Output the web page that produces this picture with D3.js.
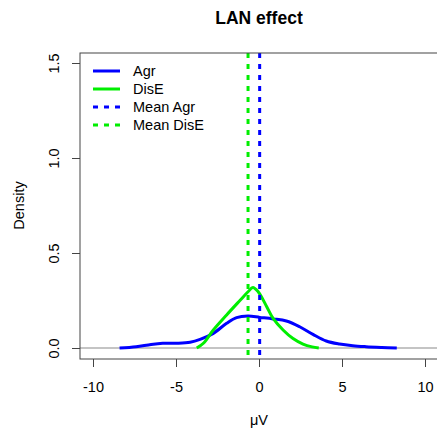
<html>
<head>
<script src="https://d3js.org/d3.v7.min.js"></script>
<style>
body { margin: 0; background: #fff; }
text { font-family: "Liberation Sans", Arial, sans-serif; fill: #000; }
</style>
</head>
<body>
<div id="vis_container"></div>
<script>
// density estimates (x in microvolt, y density)
var agrX = [-8.4, -7.4, -6.5, -5.8, -4.95, -4.15, -3.55, -2.75, -1.95, -1.35, -0.66, 0.05, 0.85, 1.65, 2.45, 3.25, 4.05, 4.85, 5.65, 6.45, 7.4, 8.3];
var agrY = [0.0, 0.007, 0.019, 0.025, 0.025, 0.03, 0.045, 0.077, 0.13, 0.16, 0.168, 0.161, 0.153, 0.142, 0.112, 0.072, 0.037, 0.021, 0.012, 0.007, 0.003, 0.0];
var diseX = [-3.75, -3.35, -2.75, -1.95, -1.15, -0.66, -0.37, -0.05, 0.45, 0.85, 1.45, 2.05, 2.65, 3.2, 3.6];
var diseY = [0.0, 0.025, 0.095, 0.174, 0.25, 0.296, 0.318, 0.296, 0.22, 0.156, 0.095, 0.05, 0.021, 0.006, 0.0];
var meanAgr = 0.04;
var meanDisE = -0.66;
var xTicks = [-10, -5, 0, 5, 10];
var yTicks = [0.0, 0.5, 1.0, 1.5];
var legendLabels = ["Agr", "DisE", "Mean Agr", "Mean DisE"];
var legendColors = ["#0000ff", "#00ee00", "#0000ff", "#00ee00"];
var legendDashed = [false, false, true, true];

var width = 437, height = 432;
var boxL = 80, boxR = 438, boxT = 53, boxB = 359;

var svg = d3.select("#vis_container").append("svg")
    .attr("width", width).attr("height", height);

var x = d3.scaleLinear().domain([-10, 10]).range([93, 425]);
var y = d3.scaleLinear().domain([0, 1.5]).range([348, 63]);

svg.append("clipPath").attr("id", "plotclip")
  .append("rect").attr("x", boxL).attr("y", boxT)
  .attr("width", boxR - boxL).attr("height", boxB - boxT);

var plot = svg.append("g").attr("clip-path", "url(#plotclip)");

// horizontal zero line
plot.append("line")
    .attr("x1", boxL).attr("x2", boxR)
    .attr("y1", y(0)).attr("y2", y(0))
    .attr("stroke", "#c4c4c4").attr("stroke-width", 2);

var line = d3.line()
    .x(function(d) { return x(d[0]); })
    .y(function(d) { return y(d[1]); })
    .curve(d3.curveCatmullRom.alpha(0.5));

plot.append("path")
    .datum(d3.zip(agrX, agrY))
    .attr("d", line)
    .attr("fill", "none").attr("stroke", "#0000ff").attr("stroke-width", 3);

plot.append("path")
    .datum(d3.zip(diseX, diseY))
    .attr("d", line)
    .attr("fill", "none").attr("stroke", "#00ee00").attr("stroke-width", 3);

// mean lines
[[meanAgr, "#0000ff"], [meanDisE, "#00ee00"]].forEach(function(m) {
    plot.append("line")
        .attr("x1", x(m[0])).attr("x2", x(m[0]))
        .attr("y1", boxT).attr("y2", boxB)
        .attr("stroke", m[1]).attr("stroke-width", 3)
        .attr("stroke-dasharray", "5,6");
});

// box
svg.append("rect")
    .attr("x", boxL).attr("y", boxT)
    .attr("width", boxR - boxL).attr("height", boxB - boxT)
    .attr("fill", "none").attr("stroke", "#444").attr("stroke-width", 1);

// x axis
var xa = svg.append("g").attr("transform", "translate(0," + boxB + ")")
    .call(d3.axisBottom(x).tickValues(xTicks).tickSize(8).tickPadding(15)
          .tickFormat(function(d) { return d; }));
xa.select(".domain").remove();
xa.selectAll(".tick line").attr("stroke", "#444");
xa.selectAll("text").style("font-size", "14.5px").attr("fill", "#000");

// y axis
var ya = svg.append("g").attr("transform", "translate(" + boxL + ",0)")
    .call(d3.axisLeft(y).tickValues(yTicks).tickSize(8)
          .tickFormat(d3.format(".1f")));
ya.select(".domain").remove();
ya.selectAll(".tick line").attr("stroke", "#444");
ya.selectAll("text")
    .style("font-size", "14.5px").attr("fill", "#000")
    .attr("x", 0).attr("dy", 0)
    .attr("text-anchor", "middle")
    .attr("transform", "translate(-26,0) rotate(-90)")
    .attr("dominant-baseline", "central");

// title and axis labels
svg.append("text").attr("x", 259).attr("y", 24)
    .attr("text-anchor", "middle")
    .style("font-size", "17.5px").style("font-weight", "bold")
    .text("LAN effect");

svg.append("text").attr("x", 259).attr("y", 425)
    .attr("text-anchor", "middle").style("font-size", "14.5px")
    .text("\u03bcV");

svg.append("text")
    .attr("transform", "translate(24," + y(0.75) + ") rotate(-90)")
    .attr("text-anchor", "middle").style("font-size", "14.5px")
    .text("Density");

// legend
var leg = svg.append("g");
legendLabels.forEach(function(lab, i) {
    var ly = 71 + i * 18;
    leg.append("line")
        .attr("x1", 93).attr("x2", 120).attr("y1", ly).attr("y2", ly)
        .attr("stroke", legendColors[i]).attr("stroke-width", 3)
        .attr("stroke-dasharray", legendDashed[i] ? "5,6" : null);
    leg.append("text").attr("x", 133).attr("y", ly)
        .attr("dy", "0.36em").style("font-size", "14.5px")
        .text(lab);
});
</script>
</body>
</html>
